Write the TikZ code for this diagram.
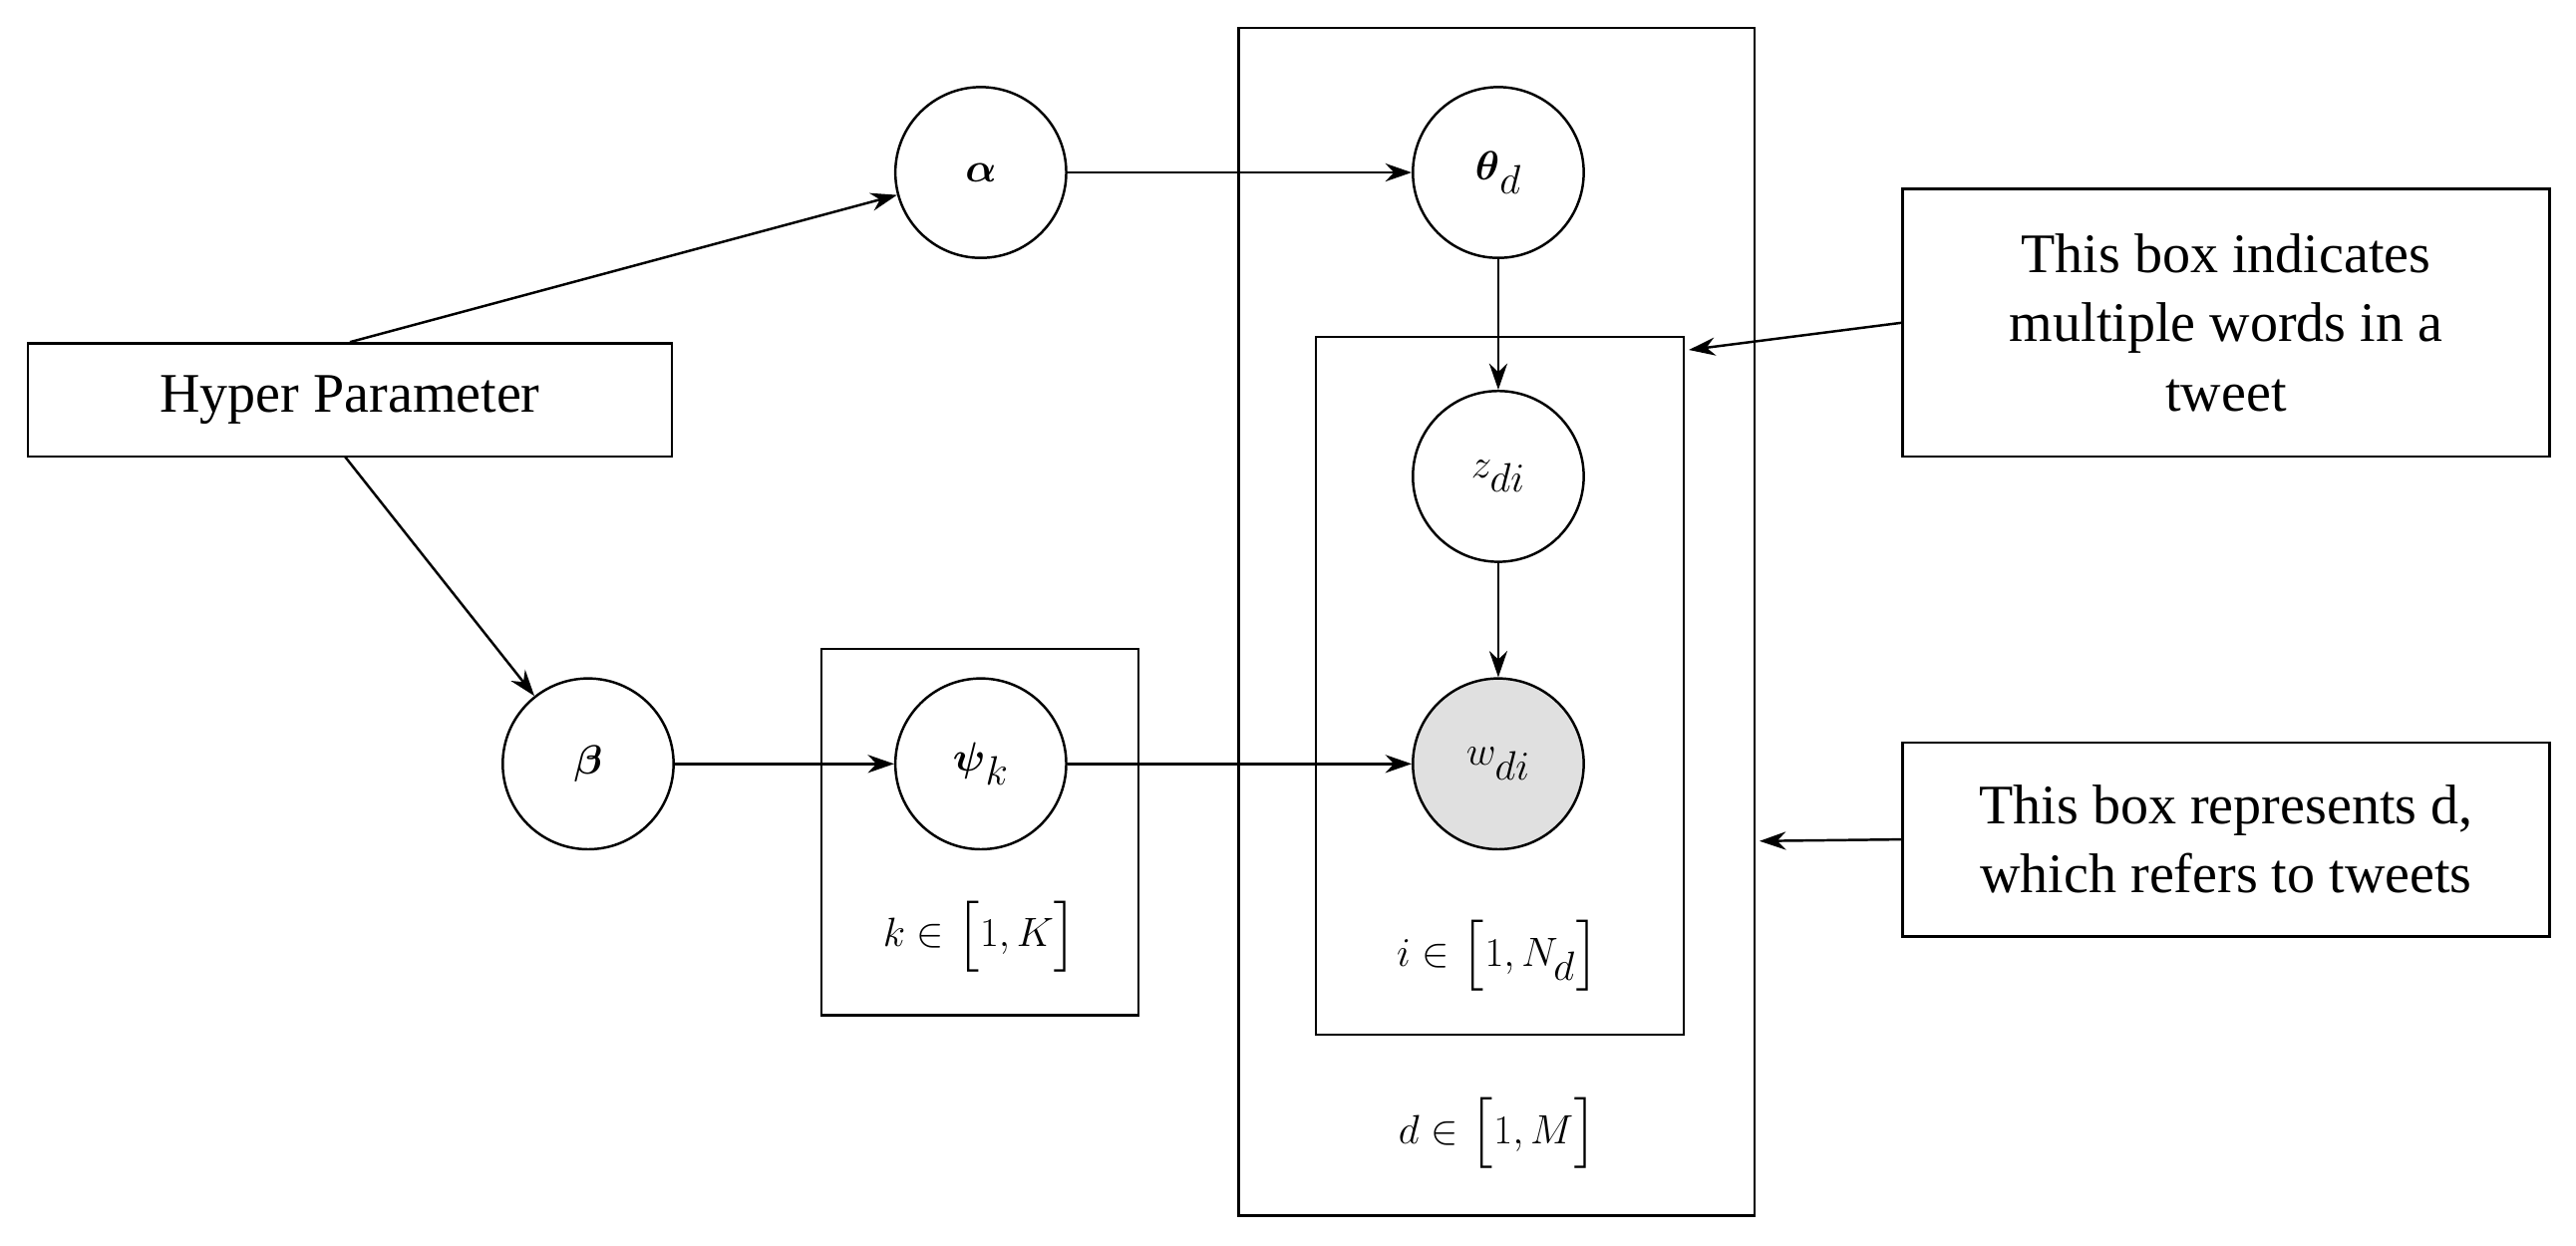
\documentclass[tikz,border=0pt]{standalone}
\usepackage{amsmath,amssymb}
\usepackage{fontspec}
\setmainfont{Liberation Serif}
\usetikzlibrary{arrows.meta}
\begin{document}
\begin{tikzpicture}[x=1pt,y=-1pt,
  var/.style={draw,circle,line width=1.5pt,minimum size=104pt,inner sep=0pt,font=\fontsize{36}{40}\selectfont},
  box/.style={draw,line width=1.5pt},
  lbl/.style={font=\fontsize{34}{42}\selectfont,align=center},
  arr/.style={line width=1.5pt,-{Stealth[length=16pt,width=11pt]}},
  mlab/.style={font=\fontsize{36}{40}\selectfont}]
\useasboundingbox (0,0) rectangle (1568,758);
\node[var] (alpha) at (597,105) {$\boldsymbol{\alpha}$};
\node[var] (theta) at (912,105) {$\boldsymbol{\theta}_{d}$};
\node[var] (z) at (912,290) {$z_{di}$};
\node[var,fill=black!12] (w) at (912,465) {$w_{di}$};
\node[var] (beta) at (358,465) {$\boldsymbol{\beta}$};
\node[var] (psi) at (597,465) {$\boldsymbol{\psi}_{k}$};
\node[box,lbl,minimum width=392pt,minimum height=69pt] (hyper) at (213,243.5) {Hyper Parameter};
\draw[box] (500,395) rectangle (693,618);
\node[mlab] (klab) at (597,570) {$k\in\bigl[1,K\bigr]$};
\draw[box] (754,17) rectangle (1068,740);
\node[mlab] (dlab) at (912,690) {$d\in\bigl[1,M\bigr]$};
\draw[box] (801,205) rectangle (1025,630);
\node[mlab] (ilab) at (912,582) {$i\in\bigl[1,N_d\bigr]$};
\node[box,lbl,minimum width=394pt,minimum height=163pt] (t1) at (1355,196.5) {This box indicates\\multiple words in a\\tweet};
\node[box,lbl,minimum width=394pt,minimum height=118pt] (t2) at (1355,511) {This box represents d,\\which refers to tweets};
\coordinate (b1) at (1028,213);
\coordinate (b2) at (1071,512);
\draw[arr] (hyper.north) -- (alpha);
\draw[arr] (210,278) -- (beta);
\draw[arr] (alpha) -- (theta);
\draw[arr] (theta) -- (z);
\draw[arr] (z) -- (w);
\draw[arr] (beta) -- (psi);
\draw[arr] (psi) -- (w);
\draw[arr] (t1.west) -- (b1);
\draw[arr] (t2.west) -- (b2);
\end{tikzpicture}
\end{document}
